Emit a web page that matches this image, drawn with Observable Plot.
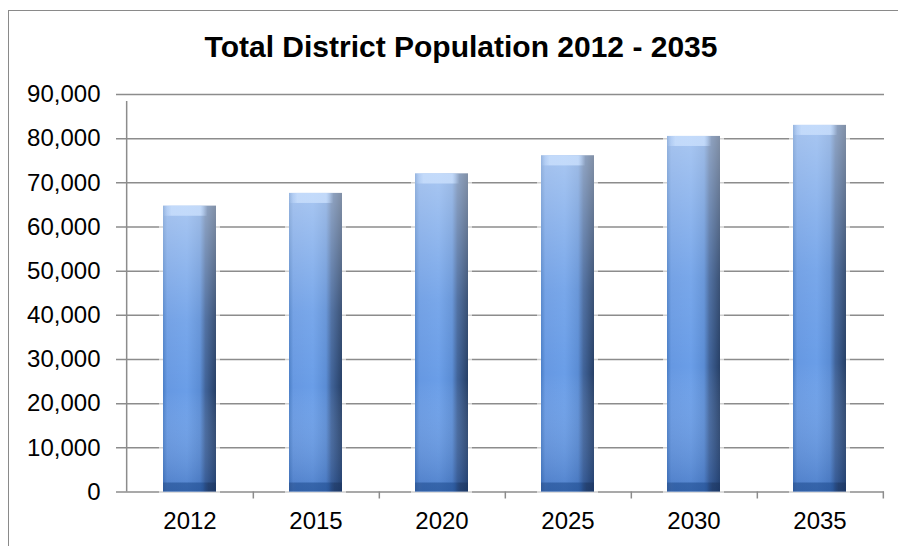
<!DOCTYPE html>
<html>
<head>
<meta charset="utf-8">
<script src="https://cdn.jsdelivr.net/npm/d3@7"></script>
<script src="https://cdn.jsdelivr.net/npm/@observablehq/plot@0.6"></script>
<style>
  html, body { margin: 0; padding: 0; background: #fff; overflow: hidden; }
  body { width: 898px; height: 546px; position: relative; font-family: "Liberation Sans", Arial, sans-serif; }
  #frame { position: absolute; left: 8px; top: 10px; width: 920px; height: 600px; border: 1.5px solid #8a8a8a; box-sizing: border-box; }
  #title { position: relative; height: 70px; box-sizing: border-box; padding-top: 32px; padding-left: 24px; text-align: center; font-weight: bold; font-size: 30px; line-height: 1; color: #000; }
  #chart { position: relative; }
</style>
</head>
<body>
<div id="frame"></div>
<div id="title">Total District Population 2012 - 2035</div>
<div id="chart"></div>
<script>
const years = ["2012", "2015", "2020", "2025", "2030", "2035"];
const population = [64700, 67600, 72000, 76100, 80500, 83000];
const yTicks = [0, 10000, 20000, 30000, 40000, 50000, 60000, 70000, 80000, 90000];

const data = years.map((year, i) => ({year, pop: population[i]}));

const W = 898, H = 476, mL = 124, mR = 14, mT = 24, mB = 54.5;
const step = (W - mL - mR) / years.length;
const gray = "#8c8c8c";

const plot = Plot.plot({
  width: W,
  height: H,
  marginLeft: mL,
  marginRight: mR,
  marginTop: mT,
  marginBottom: mB,
  style: {fontFamily: "'Liberation Sans', Arial, sans-serif", fontSize: "24px", color: "#000", background: "transparent"},
  x: {domain: years, paddingInner: 0.58, paddingOuter: 0.29, tickSize: 0, tickPadding: 20, label: null},
  y: {domain: [0, 90000], ticks: yTicks, tickFormat: d3.format(","), tickSize: 0, tickPadding: 24, label: null},
  marks: [
    Plot.ruleY(yTicks, {y: d => d, stroke: gray, strokeWidth: 1.5, insetLeft: -8}),
    Plot.ruleX([years[0]], {x: d => d, dx: -step / 2, y1: 0, y2: 90000, stroke: gray, strokeWidth: 1.5, insetBottom: -7}),
    Plot.ruleX(years, {x: d => d, dx: step / 2, y1: 0, y2: 0, stroke: gray, strokeWidth: 1.5, insetBottom: -7}),
    // soft halo
    Plot.barY(data, {x: "year", y: "pop", fill: "#fff", stroke: "#fff", strokeWidth: 8, strokeOpacity: 0.6}),
    Plot.barY(data, {x: "year", y: "pop", fill: "url(#barH)"}),
    Plot.barY(data, {x: "year", y: "pop", fill: "url(#barV)"}),
    // top bevel
    Plot.barY(data, {x: "year", y1: "pop", y2: "pop", insetTop: 0, insetBottom: -10, fill: "url(#capTop)"}),
    // bottom bevel
    Plot.barY(data, {x: "year", y1: 0, y2: 0, insetTop: -9, insetBottom: 0, fill: "url(#capBottom)"})
  ]
});

plot.insertAdjacentHTML("afterbegin", `
<defs>
  <linearGradient id="barH" x1="0" y1="0" x2="1" y2="0">
    <stop offset="0" stop-color="#4a7ec6"/>
    <stop offset="0.08" stop-color="#6698e2"/>
    <stop offset="0.45" stop-color="#6a9ee8"/>
    <stop offset="0.7" stop-color="#5a8cd4"/>
    <stop offset="0.8" stop-color="#41649a"/>
    <stop offset="1" stop-color="#263f66"/>
  </linearGradient>
  <linearGradient id="barV" x1="0" y1="0" x2="0" y2="1">
    <stop offset="0" stop-color="#ffffff" stop-opacity="0.42"/>
    <stop offset="0.4" stop-color="#ffffff" stop-opacity="0.1"/>
    <stop offset="0.65" stop-color="#ffffff" stop-opacity="0"/>
    <stop offset="1" stop-color="#0f3c8a" stop-opacity="0.3"/>
  </linearGradient>
  <linearGradient id="capTop" x1="0" y1="0" x2="1" y2="0">
    <stop offset="0" stop-color="#c8defc" stop-opacity="0"/>
    <stop offset="0.16" stop-color="#c8defc" stop-opacity="0.85"/>
    <stop offset="0.7" stop-color="#c8defc" stop-opacity="0.85"/>
    <stop offset="0.84" stop-color="#c8defc" stop-opacity="0"/>
  </linearGradient>
  <linearGradient id="capBottom" x1="0" y1="0" x2="1" y2="0">
    <stop offset="0" stop-color="#1d3f74" stop-opacity="0.4"/>
    <stop offset="0.15" stop-color="#1d4a8c" stop-opacity="0.55"/>
    <stop offset="0.75" stop-color="#1d4a8c" stop-opacity="0.55"/>
    <stop offset="0.86" stop-color="#14284a" stop-opacity="0.4"/>
    <stop offset="1" stop-color="#14284a" stop-opacity="0.3"/>
  </linearGradient>
</defs>`);

document.getElementById("chart").appendChild(plot);
</script>
</body>
</html>
